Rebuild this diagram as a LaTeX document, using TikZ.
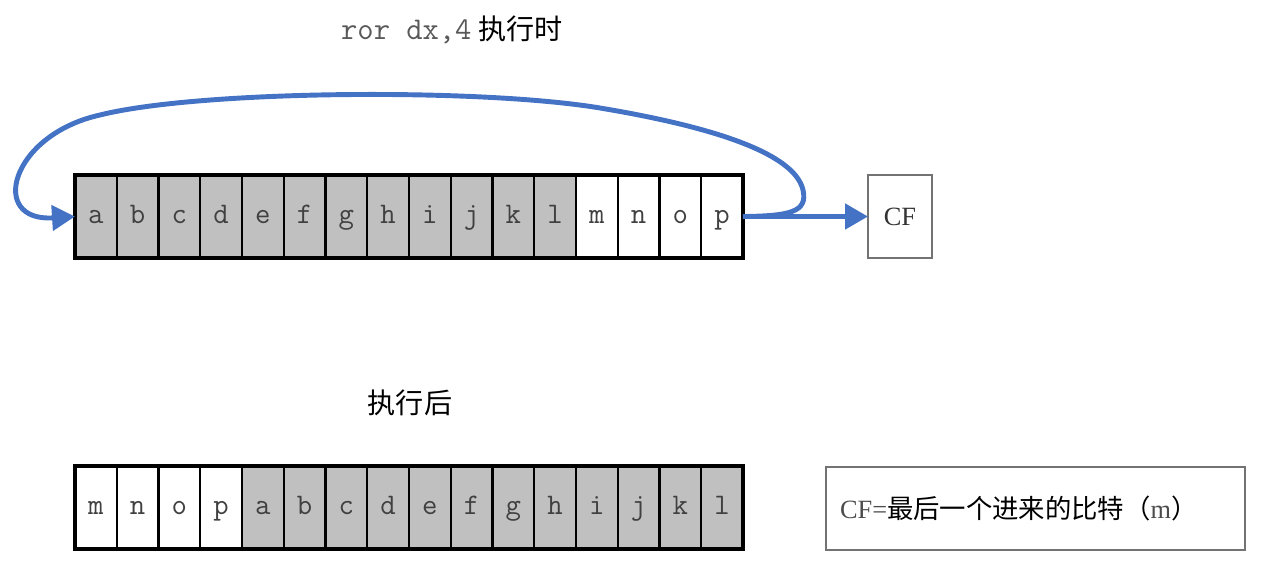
\documentclass[tikz,border=0pt]{standalone}
\usepackage{fontspec}
\setmainfont{Liberation Serif}
\newfontfamily\cjk{Noto Sans CJK SC}
\usetikzlibrary{positioning,arrows.meta}
\definecolor{regblue}{HTML}{4472C4}
\definecolor{bitgray}{HTML}{C0C0C0}
\tikzset{
	bit/.style={draw=black, line width=1.3pt, minimum width=.835cm, minimum height=1.66cm, inner sep=0, outer sep=0, text height=9pt, text depth=1.6pt, text=black!75, font=\ttfamily\fontsize{17}{19}\selectfont},
	graybit/.style={bit, fill=bitgray},
	whitebit/.style={bit, fill=white},
	flag/.style={draw=black!55, line width=.8pt, minimum width=1.28cm, minimum height=1.66cm, inner sep=0, outer sep=0, text=black!80, font=\fontsize{15}{17}\selectfont},
	note/.style={draw=black!55, line width=.8pt, minimum height=1.66cm, text width=7.82cm, inner xsep=.28cm, align=left, outer sep=0, font=\fontsize{15}{17}\selectfont},
	rot/.style={draw=regblue, line width=2.8pt, -{Triangle[length=4.6mm,width=5mm]}},
}
\begin{document}
\begin{tikzpicture}[x=.02cm, y=-.02cm]
	\useasboundingbox (0,0) rectangle (1281,571);
	% ror dx,4 before
	\node[font=\fontsize{16}{18}\selectfont] (title) at (452,30) {{\ttfamily\fontsize{18}{20}\selectfont\color{black!65}ror dx,4} {\cjk 执行时}};
	\node[graybit]                 (a1) at (95.9,216.5) {a};
	\node[graybit, right=0 of a1]  (b1) {b};
	\node[graybit, right=0 of b1]  (c1) {c};
	\node[graybit, right=0 of c1]  (d1) {d};
	\node[graybit, right=0 of d1]  (e1) {e};
	\node[graybit, right=0 of e1]  (f1) {f};
	\node[graybit, right=0 of f1]  (g1) {g};
	\node[graybit, right=0 of g1]  (h1) {h};
	\node[graybit, right=0 of h1]  (i1) {i};
	\node[graybit, right=0 of i1]  (j1) {j};
	\node[graybit, right=0 of j1]  (k1) {k};
	\node[graybit, right=0 of k1]  (l1) {l};
	\node[whitebit, right=0 of l1] (m1) {m};
	\node[whitebit, right=0 of m1] (n1) {n};
	\node[whitebit, right=0 of n1] (o1) {o};
	\node[whitebit, right=0 of o1] (p1) {p};
	\draw[line width=2pt] (a1.north west) rectangle (p1.south east);
	\node[flag] (cf) at (900,216.5) {CF};
	\draw[rot] (p1.east) -- (cf.west);
	\draw[rot] (p1.east) .. controls (790,216) and (808,212) .. (803,190)
		.. controls (795,155) and (720,128) .. (600,108)
		.. controls (480,88) and (200,90) .. (100,115)
		.. controls (10,135) and (-12,222) .. (a1.west);
	% after
	\node[font=\fontsize{16}{18}\selectfont] (after) at (410,403) {\cjk 执行后};
	\node[whitebit]                (m2) at (95.9,507.5) {m};
	\node[whitebit, right=0 of m2] (n2) {n};
	\node[whitebit, right=0 of n2] (o2) {o};
	\node[whitebit, right=0 of o2] (p2) {p};
	\node[graybit, right=0 of p2]  (a2) {a};
	\node[graybit, right=0 of a2]  (b2) {b};
	\node[graybit, right=0 of b2]  (c2) {c};
	\node[graybit, right=0 of c2]  (d2) {d};
	\node[graybit, right=0 of d2]  (e2) {e};
	\node[graybit, right=0 of e2]  (f2) {f};
	\node[graybit, right=0 of f2]  (g2) {g};
	\node[graybit, right=0 of g2]  (h2) {h};
	\node[graybit, right=0 of h2]  (i2) {i};
	\node[graybit, right=0 of i2]  (j2) {j};
	\node[graybit, right=0 of j2]  (k2) {k};
	\node[graybit, right=0 of k2]  (l2) {l};
	\draw[line width=2pt] (m2.north west) rectangle (l2.south east);
	\node[note] (cfnote) at (1035.5,508.5) {{\color{black!70}CF=}\cjk 最后一个进来的比特（{\rmfamily\color{black!70}m}）};
\end{tikzpicture}
\end{document}
